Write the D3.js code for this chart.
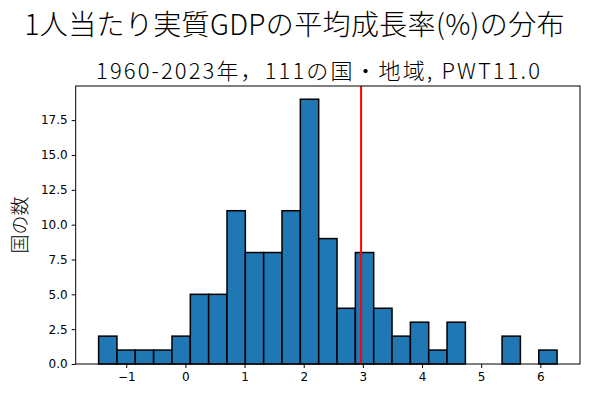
<!DOCTYPE html>
<html><head><meta charset="utf-8">
<script src="https://d3js.org/d3.v7.min.js"></script>
<style>body{margin:0;background:#fff}text{font-family:"Noto Sans CJK JP","Noto Sans",sans-serif}</style>
</head><body><svg id="c" width="589" height="397"></svg>
<script>
const binStart = -1.467;
const binWidth = 0.31;
const counts = [2,1,1,1,2,5,5,11,8,8,11,19,9,4,8,4,2,3,1,3,0,0,2,0,1];
const meanLine = 2.97;
const xTicks = [-1,0,1,2,3,4,5,6];
const yTicks = [0,2.5,5,7.5,10,12.5,15,17.5];
const title = "1人当たり実質GDPの平均成長率(%)の分布";
const subtitle = "1960-2023年，111の国・地域, PWT11.0";
const yLabel = "国の数";

const svg = d3.select("#c");
const L = 75.7, R = 580, T = 86, B = 364;
const bins = counts.map((c,i)=>({x0: binStart + i*binWidth, x1: binStart + (i+1)*binWidth, c}));
const span = bins[bins.length-1].x1 - bins[0].x0;
const x = d3.scaleLinear().domain([bins[0].x0 - 0.05*span, bins[bins.length-1].x1 + 0.05*span]).range([L,R]);
const y = d3.scaleLinear().domain([0, d3.max(counts)*1.05]).range([B,T]);

svg.selectAll("rect.bar").data(bins).join("rect").attr("class","bar")
  .attr("x",d=>x(d.x0)).attr("width",d=>x(d.x1)-x(d.x0))
  .attr("y",d=>y(d.c)).attr("height",d=>y(0)-y(d.c))
  .attr("fill","#1f77b4").attr("stroke","#000").attr("stroke-width",1.5);

svg.append("line").attr("x1",x(meanLine)).attr("x2",x(meanLine)).attr("y1",T).attr("y2",B)
  .attr("stroke","red").attr("stroke-width",2);

svg.append("rect").attr("x",L).attr("y",T).attr("width",R-L).attr("height",B-T)
  .attr("fill","none").attr("stroke","#000").attr("stroke-width",1);

const xa = svg.append("g").attr("transform",`translate(0,${B})`)
  .call(d3.axisBottom(x).tickValues(xTicks).tickSize(4).tickPadding(4).tickFormat(d=>d<0?"\u2212"+Math.abs(d):d));
const ya = svg.append("g").attr("transform",`translate(${L},0)`)
  .call(d3.axisLeft(y).tickValues(yTicks).tickSize(4).tickPadding(4).tickFormat(d3.format(".1f")));
[xa,ya].forEach(a=>{a.select(".domain").remove();a.selectAll("text").attr("font-size",12).attr("fill","#000")
  .style("font-family","'DejaVu Sans',sans-serif");a.selectAll("line").attr("stroke","#000");});

svg.append("text").attr("x",294.5).attr("y",35).attr("text-anchor","middle").attr("font-size",28)
  .attr("font-weight",300).attr("textLength",540).attr("lengthAdjust","spacing").text(title);
svg.append("text").attr("x",318).attr("y",79).attr("text-anchor","middle").attr("font-size",22)
  .attr("font-weight",300).attr("textLength",444).attr("lengthAdjust","spacing").text(subtitle);
svg.append("text").attr("transform",`translate(27,${(T+B)/2}) rotate(-90)`).attr("text-anchor","middle")
  .attr("font-size",19).attr("font-weight",300).text(yLabel);
</script></body></html>
